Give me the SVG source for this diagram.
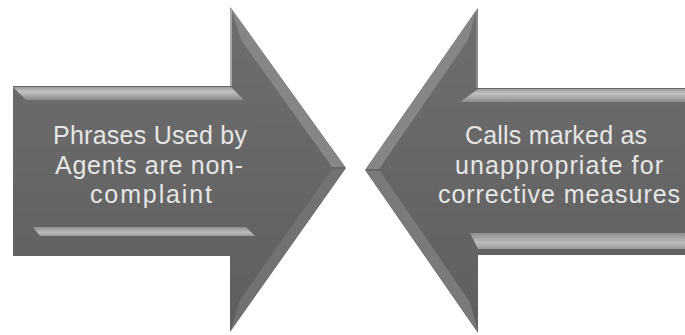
<svg xmlns="http://www.w3.org/2000/svg" width="685" height="335" viewBox="0 0 685 335">
<style>
.lbl{font-family:"Liberation Sans","DejaVu Sans",sans-serif;font-size:25px;fill:#e6e6e6;text-anchor:middle}
</style>
<defs>
<linearGradient id="body" x1="0" y1="0" x2="0" y2="1">
<stop offset="0" stop-color="#6e6e6e"/>
<stop offset="1" stop-color="#5f5f5f"/>
</linearGradient>
<linearGradient id="topStrip" x1="0" y1="0" x2="0" y2="1">
<stop offset="0" stop-color="#9a9a9a"/>
<stop offset="0.35" stop-color="#c2c2c2"/>
<stop offset="1" stop-color="#8a8a8a"/>
</linearGradient>
<linearGradient id="botStrip" x1="0" y1="0" x2="0" y2="1">
<stop offset="0" stop-color="#8e8e8e"/>
<stop offset="0.6" stop-color="#bdbdbd"/>
<stop offset="1" stop-color="#9a9a9a"/>
</linearGradient>
</defs>
<g id="connectors"/>
<g id="node-left">
<polygon points="13,86 230,86 230,7 346,168 230,332 230,256 13,256" fill="url(#body)"/>
<polygon points="13,87 231,87 244,100 26,100" fill="url(#topStrip)"/>
<polygon points="33,227 246,227 255,236 40,236" fill="url(#botStrip)"/>
<polygon points="231,8 345,167 332,167 241,40" fill="#868686"/>
<polygon points="345,169 332,169 240,300 231,330" fill="#727272"/>
<line x1="231" y1="9" x2="231" y2="86" stroke="#a8a8a8" stroke-width="2"/>
<text class="lbl" x="150" y="144" textLength="194" lengthAdjust="spacing">Phrases Used by</text>
<text class="lbl" x="149" y="174" textLength="188" lengthAdjust="spacing">Agents are non-</text>
<text class="lbl" x="151" y="203" textLength="122" lengthAdjust="spacing">complaint</text>
</g>
<g id="node-right">
<polygon points="685,88 478,88 478,8 365,170 478,333 478,255 685,255" fill="url(#body)"/>
<polygon points="478,89 685,89 685,102 460,102" fill="url(#topStrip)"/>
<polygon points="470,233 685,233 685,249 478,249" fill="url(#botStrip)"/>
<polygon points="477,9 366,169 379,169 468,40" fill="#868686"/>
<polygon points="366,171 380,171 470,302 478,332" fill="#7a7a7a"/>
<line x1="477" y1="10" x2="477" y2="88" stroke="#8a8a8a" stroke-width="2"/>
<text class="lbl" x="556" y="144" textLength="182" lengthAdjust="spacing">Calls marked as</text>
<text class="lbl" x="559" y="174" textLength="208" lengthAdjust="spacing">unappropriate for</text>
<text class="lbl" x="559" y="203" textLength="242" lengthAdjust="spacing">corrective measures</text>
</g>
</svg>
